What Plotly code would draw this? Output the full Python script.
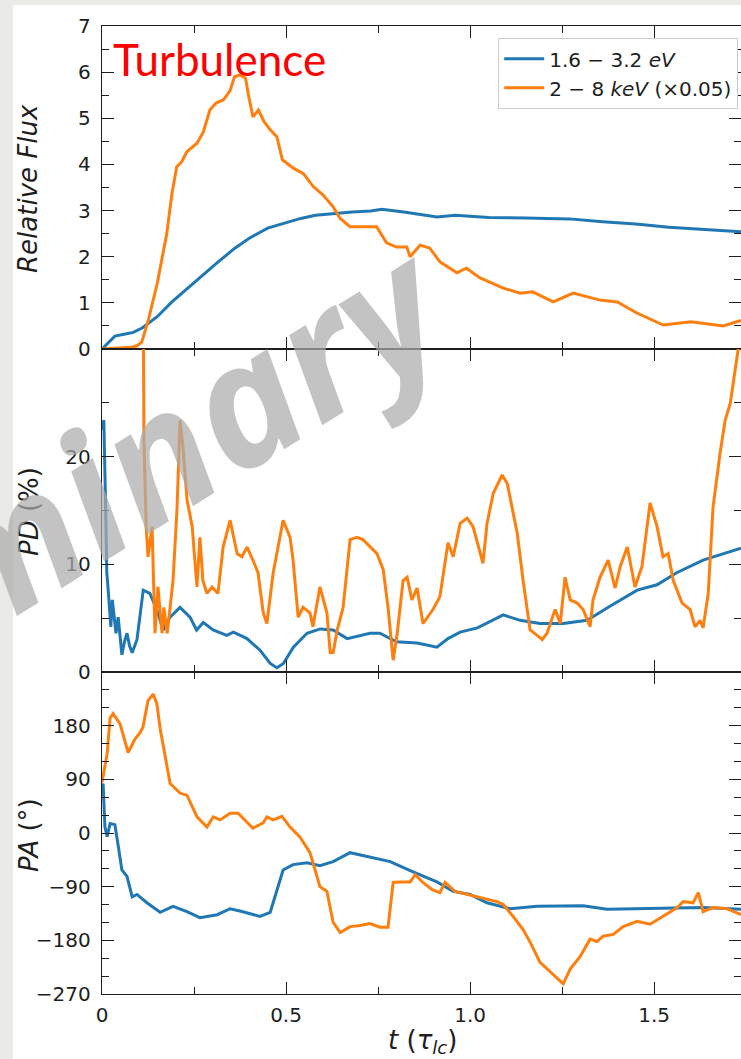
import plotly.graph_objects as go
from plotly.subplots import make_subplots

# ---------------- data ----------------
# Relative flux, 1.6-3.2 eV band
t_flux_soft = [0.000, 0.010, 0.020, 0.035, 0.060, 0.085, 0.110, 0.150, 0.190, 0.230,
               0.270, 0.310, 0.360, 0.400, 0.450, 0.490, 0.540, 0.580, 0.630, 0.680,
               0.730, 0.760, 0.820, 0.870, 0.910, 0.960, 1.050, 1.150, 1.270, 1.360,
               1.450, 1.540, 1.640, 1.736]
flux_soft = [0.00, 0.08, 0.18, 0.28, 0.32, 0.36, 0.46, 0.70, 1.02, 1.30,
             1.57, 1.85, 2.18, 2.40, 2.62, 2.72, 2.83, 2.90, 2.94, 2.97,
             2.99, 3.03, 2.97, 2.91, 2.86, 2.90, 2.85, 2.84, 2.82, 2.76,
             2.71, 2.64, 2.59, 2.54]

# Relative flux, 2-8 keV band (scaled x0.05)
t_flux_hard = [0.000, 0.050, 0.080, 0.095, 0.108, 0.126, 0.150, 0.176, 0.190, 0.203,
               0.216, 0.230, 0.258, 0.275, 0.293, 0.310, 0.330, 0.348, 0.360, 0.375,
               0.390, 0.397, 0.410, 0.425, 0.440, 0.457, 0.475, 0.490, 0.520, 0.547,
               0.574, 0.600, 0.628, 0.647, 0.674, 0.728, 0.746, 0.773, 0.800, 0.828,
               0.837, 0.864, 0.890, 0.918, 0.964, 0.990, 1.027, 1.090, 1.136, 1.170,
               1.226, 1.280, 1.353, 1.400, 1.453, 1.525, 1.600, 1.688, 1.725, 1.736]
flux_hard = [0.00, 0.02, 0.04, 0.07, 0.15, 0.63, 1.42, 2.50, 3.37, 3.95,
             4.05, 4.27, 4.46, 4.70, 5.18, 5.33, 5.40, 5.60, 5.90, 5.94,
             5.87, 5.54, 5.03, 5.18, 4.93, 4.75, 4.60, 4.10, 3.92, 3.80,
             3.52, 3.34, 3.08, 2.83, 2.65, 2.65, 2.65, 2.30, 2.21, 2.21,
             2.00, 2.25, 2.19, 1.89, 1.65, 1.75, 1.54, 1.32, 1.21, 1.24,
             1.02, 1.21, 1.06, 1.02, 0.78, 0.52, 0.59, 0.50, 0.59, 0.62]

# Polarization degree (%)
t_pd_soft = [0.000, 0.005, 0.010, 0.013, 0.016, 0.020, 0.024, 0.028, 0.032, 0.038,
             0.044, 0.054, 0.061, 0.068, 0.075, 0.082, 0.095, 0.112, 0.130, 0.149,
             0.166, 0.185, 0.212, 0.239, 0.257, 0.275, 0.302, 0.339, 0.357, 0.394,
             0.430, 0.457, 0.475, 0.493, 0.520, 0.557, 0.593, 0.628, 0.666, 0.700,
             0.728, 0.755, 0.800, 0.856, 0.910, 0.940, 0.973, 1.020, 1.090, 1.136,
             1.190, 1.253, 1.318, 1.380, 1.454, 1.508, 1.560, 1.633, 1.680, 1.736]
pd_soft = [22.5, 23.4, 15.0, 9.2, 8.0, 6.0, 4.2, 6.7, 5.5, 3.6,
           5.1, 1.6, 2.8, 3.6, 2.4, 1.8, 3.0, 7.6, 7.3, 5.8,
           3.9, 5.1, 6.0, 5.1, 3.9, 4.6, 3.9, 3.4, 3.7, 3.1,
           2.0, 0.8, 0.4, 0.8, 2.3, 3.6, 4.0, 3.9, 3.1, 3.4,
           3.6, 3.6, 2.8, 2.7, 2.3, 3.1, 3.7, 4.1, 5.3, 4.8,
           4.5, 4.5, 4.8, 6.1, 7.6, 8.1, 9.2, 10.4, 10.9, 11.5]

t_pd_hard = [0.108, 0.111, 0.114, 0.120, 0.125, 0.136, 0.144, 0.152, 0.163, 0.168,
             0.177, 0.185, 0.193, 0.204, 0.212, 0.220, 0.231, 0.245, 0.253, 0.258,
             0.266, 0.274, 0.285, 0.299, 0.315, 0.329, 0.348, 0.367, 0.380, 0.394,
             0.410, 0.424, 0.438, 0.448, 0.465, 0.492, 0.511, 0.519, 0.533, 0.546,
             0.565, 0.573, 0.592, 0.611, 0.620, 0.628, 0.639, 0.655, 0.674, 0.693,
             0.709, 0.728, 0.747, 0.764, 0.777, 0.791, 0.802, 0.818, 0.829, 0.842,
             0.856, 0.872, 0.899, 0.918, 0.940, 0.954, 0.973, 0.992, 1.008, 1.035,
             1.046, 1.063, 1.087, 1.101, 1.128, 1.144, 1.163, 1.182, 1.196, 1.209,
             1.231, 1.245, 1.258, 1.272, 1.291, 1.307, 1.326, 1.334, 1.353, 1.375,
             1.394, 1.408, 1.427, 1.448, 1.467, 1.489, 1.508, 1.524, 1.538, 1.552,
             1.576, 1.598, 1.611, 1.625, 1.633, 1.647, 1.660, 1.679, 1.693, 1.707,
             1.720, 1.728, 1.736]
pd_hard = [60.0, 32.0, 21.5, 13.5, 10.7, 13.5, 3.6, 7.9, 3.6, 6.0,
           3.6, 6.0, 8.5, 15.3, 23.4, 20.9, 16.0, 13.5, 10.4, 7.9,
           12.5, 8.5, 7.3, 7.9, 7.3, 11.6, 14.1, 11.0, 10.7, 11.6,
           10.4, 9.2, 5.5, 4.5, 9.2, 14.1, 12.5, 10.4, 5.1, 6.0,
           5.5, 4.2, 7.9, 5.5, 1.8, 1.8, 3.9, 6.0, 12.3, 12.5,
           12.3, 11.6, 11.0, 9.5, 6.0, 1.1, 3.6, 8.5, 8.8, 6.7,
           7.8, 4.5, 5.8, 7.0, 12.0, 10.7, 13.8, 14.3, 13.5, 10.1,
           13.8, 16.6, 18.3, 17.5, 12.9, 8.5, 3.9, 3.4, 3.0, 3.6,
           5.8, 4.5, 8.8, 6.7, 6.4, 5.8, 4.2, 6.7, 8.8, 10.4,
           7.8, 9.8, 11.6, 7.9, 9.8, 15.7, 13.5, 10.7, 11.0, 8.5,
           6.4, 5.8, 4.2, 4.8, 4.1, 7.3, 15.3, 20.3, 23.4, 25.0,
           27.8, 29.9, 33.0]

# Polarization angle (deg)
t_pa_soft = [0.000, 0.003, 0.008, 0.014, 0.022, 0.035, 0.043, 0.054, 0.068, 0.082,
             0.095, 0.122, 0.158, 0.193, 0.231, 0.266, 0.313, 0.348, 0.383, 0.429,
             0.457, 0.476, 0.492, 0.519, 0.557, 0.592, 0.628, 0.674, 0.728, 0.783,
             0.845, 0.910, 0.954, 1.000, 1.046, 1.109, 1.182, 1.307, 1.372, 1.497,
             1.633, 1.736]
pa_soft = [75, 83, 10, -6, 16, 14, -17, -62, -73, -107,
           -103, -117, -133, -123, -132, -142, -137, -127, -132, -140,
           -133, -95, -62, -53, -50, -55, -48, -33, -40, -48,
           -65, -82, -98, -103, -117, -127, -123, -122, -128, -127,
           -125, -128]

t_pa_hard = [0.000, 0.014, 0.022, 0.030, 0.049, 0.071, 0.090, 0.103, 0.111, 0.125,
             0.139, 0.149, 0.158, 0.177, 0.185, 0.212, 0.231, 0.258, 0.285, 0.302,
             0.321, 0.348, 0.370, 0.394, 0.410, 0.438, 0.448, 0.465, 0.489, 0.511,
             0.538, 0.565, 0.592, 0.611, 0.628, 0.647, 0.674, 0.701, 0.728, 0.755,
             0.777, 0.791, 0.810, 0.837, 0.851, 0.872, 0.897, 0.918, 0.932, 0.959,
             0.992, 1.027, 1.073, 1.090, 1.117, 1.144, 1.163, 1.190, 1.217, 1.245,
             1.253, 1.272, 1.299, 1.326, 1.345, 1.361, 1.389, 1.416, 1.454, 1.489,
             1.524, 1.563, 1.579, 1.606, 1.620, 1.633, 1.660, 1.698, 1.736]
pa_hard = [85, 133, 193, 200, 183, 135, 158, 168, 177, 222,
           233, 217, 175, 105, 83, 67, 63, 27, 10, 27,
           22, 33, 33, 18, 8, 17, 27, 22, 28, 10,
           -7, -33, -90, -98, -150, -167, -157, -155, -152, -158,
           -158, -83, -82, -82, -70, -83, -95, -100, -83, -98,
           -103, -108, -115, -120, -140, -162, -183, -217, -233, -248,
           -253, -228, -207, -178, -182, -173, -170, -157, -148, -153,
           -140, -125, -115, -117, -100, -132, -125, -127, -137]

x_tick_vals = [0, 0.5, 1.0, 1.5]
x_tick_text = ["0", "0.5", "1.0", "1.5"]
flux_ticks = [0, 1, 2, 3, 4, 5, 6, 7]
pd_ticks = [0, 10, 20]
pa_ticks = [-270, -180, -90, 0, 90, 180]

label_soft = "1.6 \u2212 3.2 <i>eV</i>"
label_hard = "2 \u2212 8 <i>keV</i> (\u00d70.05)"

# ---------------- layout geometry (pixels) ----------------
W, H = 741, 1059
L, R, T, B = 102, 741, 26, 994


def fx(px):
    return (px - L) / (R - L)


def fy(py):
    return (B - py) / (B - T)


BLUE = "#1f77b4"
ORANGE = "#ff7f0e"
INK = "#1e1e1e"
FONT = "DejaVu Sans"
LW = 3

fig = make_subplots(rows=3, cols=1, shared_xaxes=True, vertical_spacing=0,
                    row_heights=[323, 323, 322])

fig.add_trace(go.Scatter(x=t_flux_soft, y=flux_soft, mode="lines", name=label_soft,
                         line=dict(color=BLUE, width=LW), legendgroup="soft"), row=1, col=1)
fig.add_trace(go.Scatter(x=t_flux_hard, y=flux_hard, mode="lines", name=label_hard,
                         line=dict(color=ORANGE, width=LW), legendgroup="hard"), row=1, col=1)
fig.add_trace(go.Scatter(x=t_pd_soft, y=pd_soft, mode="lines", showlegend=False,
                         line=dict(color=BLUE, width=LW)), row=2, col=1)
fig.add_trace(go.Scatter(x=t_pd_hard, y=pd_hard, mode="lines", showlegend=False,
                         line=dict(color=ORANGE, width=LW)), row=2, col=1)
fig.add_trace(go.Scatter(x=t_pa_soft, y=pa_soft, mode="lines", showlegend=False,
                         line=dict(color=BLUE, width=LW)), row=3, col=1)
fig.add_trace(go.Scatter(x=t_pa_hard, y=pa_hard, mode="lines", showlegend=False,
                         line=dict(color=ORANGE, width=LW)), row=3, col=1)

axis_common = dict(showline=True, linecolor=INK, linewidth=1.4, mirror="allticks",
                   ticks="inside", ticklen=12, tickwidth=1.4, tickcolor=INK,
                   showgrid=False, zeroline=False,
                   tickfont=dict(family=FONT, size=20, color=INK))

for r in (1, 2, 3):
    fig.update_xaxes(range=[0, 1.736], tickvals=x_tick_vals, ticktext=x_tick_text,
                     minor=dict(dtick=0.25, tick0=0, ticks="inside", ticklen=7,
                                tickwidth=1.4, tickcolor=INK),
                     showticklabels=(r == 3), ticklabelstandoff=3,
                     row=r, col=1, **axis_common)

fig.update_yaxes(range=[0, 7], tickvals=flux_ticks,
                 minor=dict(dtick=0.5, tick0=0, ticks="inside", ticklen=7,
                            tickwidth=1.4, tickcolor=INK),
                 ticklabelstandoff=6, row=1, col=1, **axis_common)
fig.update_yaxes(range=[0, 30], tickvals=pd_ticks,
                 minor=dict(dtick=5, tick0=0, ticks="inside", ticklen=7,
                            tickwidth=1.4, tickcolor=INK),
                 ticklabelstandoff=6, row=2, col=1, **axis_common)
fig.update_yaxes(range=[-270, 270], tickvals=pa_ticks,
                 minor=dict(dtick=30, tick0=0, ticks="inside", ticklen=7,
                            tickwidth=1.4, tickcolor=INK),
                 ticklabelstandoff=6, row=3, col=1, **axis_common)

# axis titles
title_font = dict(family=FONT, size=26, color=INK)
annotations = [
    dict(text="<i>Relative Flux</i>", x=fx(28), y=fy(189), textangle=-90),
    dict(text="<i>PD</i> (%)", x=fx(29), y=fy(512), textangle=-90),
    dict(text="<i>PA</i> (\u00b0)", x=fx(29), y=fy(835), textangle=-90),
    dict(text="<i>t</i> (<i>\u03c4</i><sub><i>lc</i></sub>)", x=fx(423), y=fy(1041), textangle=0),
]
for a in annotations:
    fig.add_annotation(xref="paper", yref="paper", xanchor="center", yanchor="middle",
                       showarrow=False, font=title_font, **a)

# panel caption
fig.add_annotation(text="Turbulence", xref="paper", yref="paper", x=fx(111), y=fy(59),
                   xanchor="left", yanchor="middle", showarrow=False,
                   font=dict(family="Lato", size=44, color="#ff0000"))

# draft stamp across the upper-left panels
fig.add_annotation(text="<b><i>Preliminary</i></b>", xref="paper", yref="paper",
                   x=fx(22), y=fy(534), xanchor="center", yanchor="middle",
                   textangle=-32, showarrow=False,
                   font=dict(family="Open Sans", size=172,
                             color="rgba(172,172,172,0.72)"))

# white slide area behind the figure
fig.add_shape(type="rect", xref="paper", yref="paper", layer="below",
              x0=fx(13), x1=fx(760), y0=fy(1070), y1=fy(5),
              fillcolor="white", line=dict(width=0))

fig.update_layout(
    width=W, height=H,
    margin=dict(l=L, r=W - R, t=T, b=H - B, pad=0),
    paper_bgcolor="#eaeae6", plot_bgcolor="rgba(0,0,0,0)",
    font=dict(family=FONT, color=INK),
    legend=dict(x=fx(738), y=fy(38), xanchor="right", yanchor="top",
                bgcolor="white", bordercolor="#cccccc", borderwidth=1.2,
                font=dict(family=FONT, size=20, color=INK),
                itemwidth=40, tracegroupgap=0),
)

fig.write_html("out.html")
